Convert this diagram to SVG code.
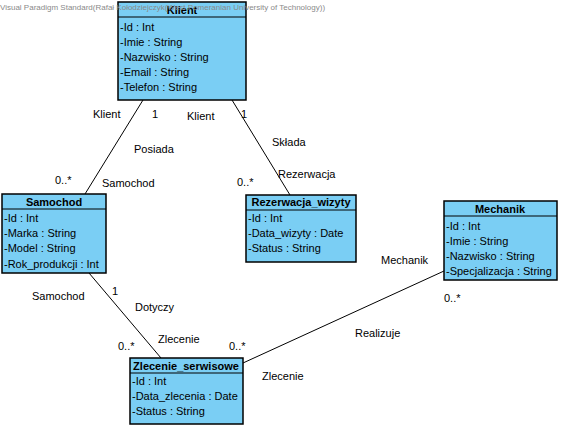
<svg xmlns="http://www.w3.org/2000/svg" width="561" height="428" viewBox="0 0 561 428">
<style>
text{font-family:"Liberation Sans",Arial,sans-serif;font-size:11px;fill:#000}
.box{fill:#7ACEF4;stroke:#000;stroke-width:1.5}
.t{font-weight:bold;text-anchor:middle}
.ln{stroke:#000;stroke-width:1;fill:none}
.wm{font-size:8px;fill:#8a8a8a}
</style>
<rect width="561" height="428" fill="#fff"/>
<g id="connectors">
<line class="ln" x1="143" y1="100" x2="85" y2="194"/>
<line class="ln" x1="232" y1="100" x2="290" y2="195"/>
<line class="ln" x1="89" y1="273" x2="161" y2="358"/>
<line class="ln" x1="444" y1="271" x2="243" y2="363"/>
<text x="93" y="118">Klient</text>
<text x="152" y="118">1</text>
<text x="134" y="153">Posiada</text>
<text x="55" y="184">0..*</text>
<text x="102" y="187">Samochod</text>
<text x="187" y="120">Klient</text>
<text x="241" y="118">1</text>
<text x="272" y="146">Składa</text>
<text x="278" y="178">Rezerwacja</text>
<text x="237" y="186">0..*</text>
<text x="32" y="300">Samochod</text>
<text x="112" y="295">1</text>
<text x="135" y="311">Dotyczy</text>
<text x="158" y="343">Zlecenie</text>
<text x="118" y="350">0..*</text>
<text x="381" y="264">Mechanik</text>
<text x="444" y="302">0..*</text>
<text x="355" y="337">Realizuje</text>
<text x="262" y="380">Zlecenie</text>
<text x="229" y="350">0..*</text>
</g>
<g id="klient">
<rect class="box" x="118" y="2" width="128" height="98"/>
<line class="ln" x1="118" y1="17" x2="246" y2="17" stroke-width="1.5"/>
<text class="t" x="182" y="14">Klient</text>
<text x="120" y="31">-Id : Int</text>
<text x="120" y="46">-Imie : String</text>
<text x="120" y="61">-Nazwisko : String</text>
<text x="120" y="76">-Email : String</text>
<text x="120" y="91">-Telefon : String</text>
</g>
<g id="samochod">
<rect class="box" x="2" y="194" width="104" height="79"/>
<line class="ln" x1="2" y1="209" x2="106" y2="209" stroke-width="1.5"/>
<text class="t" x="54" y="206">Samochod</text>
<text x="4" y="222">-Id : Int</text>
<text x="4" y="237">-Marka : String</text>
<text x="4" y="252">-Model : String</text>
<text x="4" y="268">-Rok_produkcji : Int</text>
</g>
<g id="rezerwacja">
<rect class="box" x="246" y="195" width="110" height="67"/>
<line class="ln" x1="246" y1="210" x2="356" y2="210" stroke-width="1.5"/>
<text class="t" x="301" y="206">Rezerwacja_wizyty</text>
<text x="248" y="222">-Id : Int</text>
<text x="248" y="237">-Data_wizyty : Date</text>
<text x="248" y="252">-Status : String</text>
</g>
<g id="mechanik">
<rect class="box" x="444" y="201" width="113" height="79"/>
<line class="ln" x1="444" y1="216" x2="557" y2="216" stroke-width="1.5"/>
<text class="t" x="500" y="213">Mechanik</text>
<text x="446" y="230">-Id : Int</text>
<text x="446" y="245">-Imie : String</text>
<text x="446" y="260">-Nazwisko : String</text>
<text x="446" y="275">-Specjalizacja : String</text>
</g>
<g id="zlecenie">
<rect class="box" x="130" y="358" width="113" height="66"/>
<line class="ln" x1="130" y1="373" x2="243" y2="373" stroke-width="1.5"/>
<text class="t" x="186" y="370">Zlecenie_serwisowe</text>
<text x="132" y="385">-Id : Int</text>
<text x="132" y="400">-Data_zlecenia : Date</text>
<text x="132" y="415">-Status : String</text>
</g>
<text class="wm" x="0" y="10">Visual Paradigm Standard(Rafał Kołodziejczyk(West Pomeranian University of Technology))</text>
</svg>
